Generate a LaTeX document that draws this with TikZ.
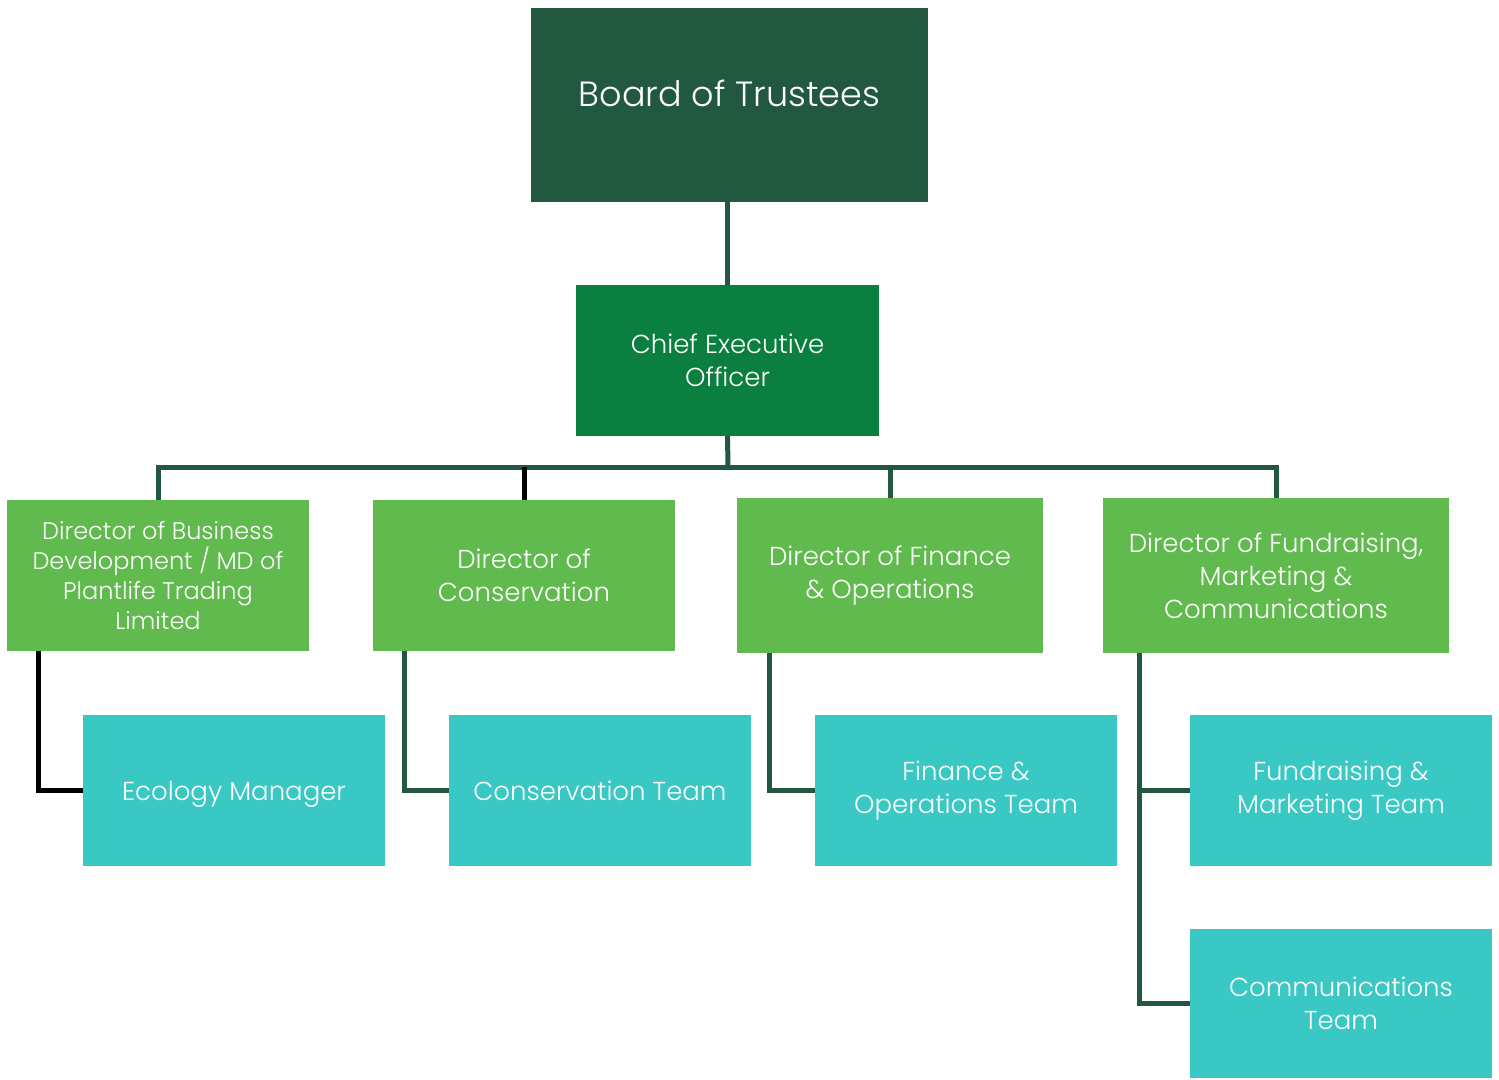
\documentclass[tikz,border=0pt]{standalone}
\usepackage{fontspec}
\setmainfont{Poppins Light}
\definecolor{cboard}{RGB}{34,88,64}
\definecolor{cceo}{RGB}{10,127,63}
\definecolor{cdir}{RGB}{96,186,77}
\definecolor{cteam}{RGB}{58,200,197}
\begin{document}
\begin{tikzpicture}[x=1pt,y=-1pt,
  box/.style={rectangle, inner sep=0pt, outer sep=0pt, text=white, align=center},
  boardbox/.style={box, fill=cboard, minimum width=397pt, minimum height=194pt, font=\fontsize{35}{40}\selectfont},
  ceobox/.style={box, fill=cceo, minimum width=303pt, minimum height=151pt, font=\fontsize{26}{33}\selectfont},
  dirbox/.style={box, fill=cdir, font=\fontsize{24}{30}\selectfont},
  teambox/.style={box, fill=cteam, minimum width=302pt, minimum height=151pt, font=\fontsize{26}{33}\selectfont},
  conn/.style={draw=cboard, line width=5pt, line join=miter},
  connk/.style={draw=black, line width=5pt, line join=miter}]
\useasboundingbox (0,0) rectangle (1499,1079);
\node[boardbox] (board) at (729.5,105) {};
\node[text=white, font=\fontsize{35}{40}\selectfont] (boardtxt) at (729.5,93) {Board of Trustees};
\node[ceobox] (ceo) at (727.5,360.5) {Chief Executive\\Officer};
\node[dirbox, minimum width=302pt, minimum height=151pt] (d1) at (158,575.5) {Director of Business\\Development / MD of\\Plantlife Trading\\Limited};
\node[dirbox, minimum width=302pt, minimum height=151pt, font=\fontsize{26}{33}\selectfont] (d2) at (524,575.5) {Director of\\Conservation};
\node[dirbox, minimum width=306pt, minimum height=155pt, font=\fontsize{26}{33}\selectfont] (d3) at (890,575.5) {\raisebox{-3pt}{\parbox{300pt}{\centering Director of Finance\\\& Operations}}};
\node[dirbox, minimum width=346pt, minimum height=155pt, font=\fontsize{26}{33}\selectfont] (d4) at (1276,575.5) {Director of Fundraising,\\Marketing \&\\Communications};
\node[teambox] (eco) at (234,790.5) {\raisebox{0pt}[\height][0pt]{Ecology Manager}};
\node[teambox] (cons) at (600,790.5) {Conservation Team};
\node[teambox] (fin) at (966,790.5) {Finance \&\\Operations Team};
\node[teambox] (fund) at (1341,790.5) {Fundraising \&\\Marketing Team};
\node[teambox, minimum height=149pt] (comms) at (1341,1003.5) {Communications\\Team};
\coordinate (bus) at (728,467);
\draw[conn] (ceo.north) -- (ceo.north |- board.south);
\draw[conn] (ceo.south) -- (bus);
\draw[conn] (d1.north) -- (d1.north |- bus) -- (d4.north |- bus) -- (d4.north);
\draw[connk] (d2.north) -- (d2.north |- bus);
\draw[conn] (d3.north) -- (d3.north |- bus);
\draw[connk] ([xshift=31pt]d1.south west) |- (eco.west);
\draw[conn] ([xshift=31pt]d2.south west) |- (cons.west);
\draw[conn] ([xshift=32pt]d3.south west) |- (fin.west);
\draw[conn] ([xshift=36pt]d4.south west) |- (comms.west);
\draw[conn] ([xshift=36pt]d4.south west |- fund.west) -- (fund.west);
\end{tikzpicture}
\end{document}
